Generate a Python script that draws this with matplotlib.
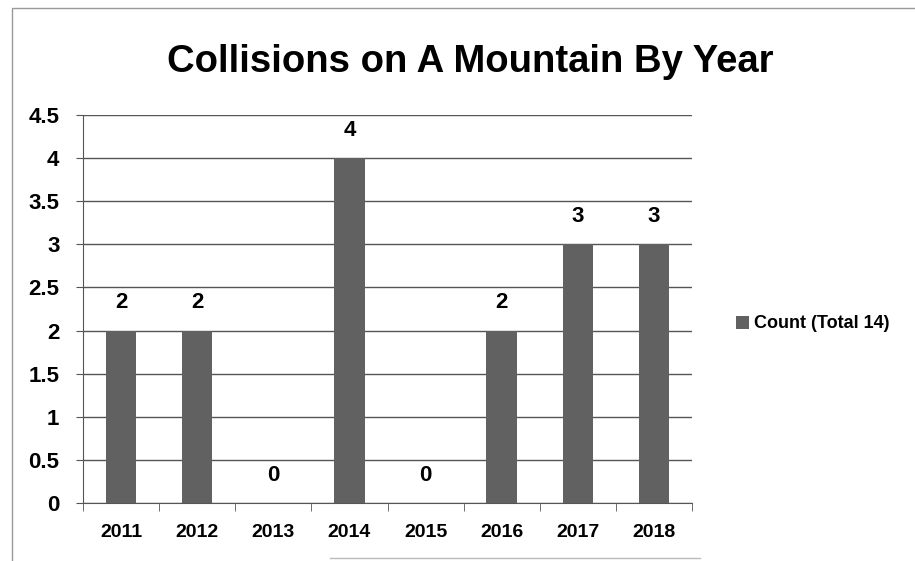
import matplotlib.pyplot as plt
import numpy as np
from matplotlib import font_manager

years = ["2011", "2012", "2013", "2014", "2015", "2016", "2017", "2018"]
counts = [2, 2, 0, 4, 0, 2, 3, 3]
series_label = "Count (Total 14)"
title = "Collisions on A Mountain By Year"

names = {f.name for f in font_manager.fontManager.ttflist}
fam = ["Liberation Sans Narrow", "Liberation Sans", "DejaVu Sans"]
fam = [f for f in fam if f in names] or ["DejaVu Sans"]
plt.rcParams["font.family"] = fam

W, H = 915, 561
fig = plt.figure(figsize=(W / 100, H / 100), dpi=100)
ax = fig.add_axes([83 / W, 1 - 503 / H, (692 - 83) / W, (503 - 115) / H])

# outer frame of the pasted chart
fig.add_artist(plt.Rectangle((12 / W, -0.02), 1.1, 1 - 8 / H + 0.02, transform=fig.transFigure,
                             fill=False, edgecolor="#999999", lw=1.0))
fig.add_artist(plt.Line2D([330 / W, 700 / W], [1 - 558 / H] * 2, transform=fig.transFigure,
                          color="#bbbbbb", lw=1.0))

x = np.arange(len(years))
ax.bar(x, counts, width=0.4, color="#616161", label=series_label, zorder=3)
for xi, v in zip(x, counts):
    ax.text(xi, v + 0.2, str(v), ha="center", va="bottom", fontsize=16, fontweight="bold")

ax.set_xlim(-0.5, len(years) - 0.5)
ax.set_ylim(0, 4.5)
ax.set_yticks(np.arange(0, 4.51, 0.5))
ax.set_yticklabels(["0", "0.5", "1", "1.5", "2", "2.5", "3", "3.5", "4", "4.5"])
ax.yaxis.grid(True, color="#555555", lw=1.0, zorder=0)
ax.set_xticks(x)
ax.set_xticklabels(years)
ax.set_xticks(np.arange(-0.5, len(years), 1), minor=True)
ax.tick_params(axis="x", which="major", length=0, pad=15, labelsize=14)
ax.tick_params(axis="x", which="minor", length=6, direction="out", color="#555555")
ax.tick_params(axis="y", length=5, direction="out", color="#555555", labelsize=16, pad=12)
for lbl in ax.get_xticklabels() + ax.get_yticklabels():
    lbl.set_fontweight("bold")
for s in ["top", "right"]:
    ax.spines[s].set_visible(False)
ax.spines["left"].set_color("#555555")
ax.spines["bottom"].set_color("#555555")

fig.text(470 / W, 1 - 62 / H, title, ha="center", va="center", fontsize=27.5, fontweight="bold")

leg = fig.legend(loc="center left", bbox_to_anchor=(720 / W, 1 - 324 / H), frameon=False,
                 fontsize=13, handlelength=0.7, handleheight=0.7, handletextpad=0.3)
for t in leg.get_texts():
    t.set_fontweight("bold")

fig.savefig("out.png", dpi=100)
